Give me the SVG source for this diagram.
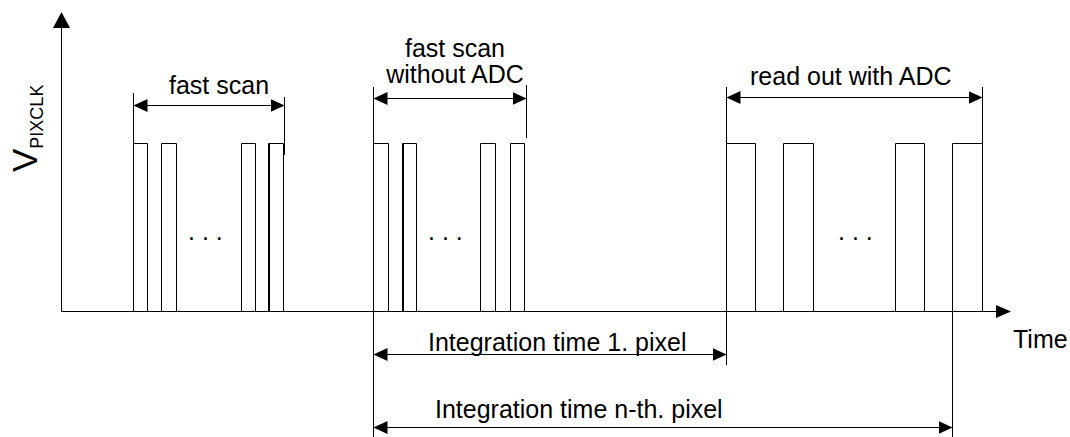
<svg xmlns="http://www.w3.org/2000/svg" width="1070" height="437" viewBox="0 0 1070 437">
  <defs>
    <marker id="arrow" viewBox="0 0 14 13" refX="14" refY="6.5" markerWidth="14" markerHeight="13" markerUnits="userSpaceOnUse" orient="auto-start-reverse">
      <path d="M0,0 L14,6.5 L0,13 Z" fill="#000"/>
    </marker>
    <style>
      .ln { stroke: #000; stroke-width: 1; fill: none; }
      .dim { stroke: #000; stroke-width: 1; fill: none; marker-start: url(#arrow); marker-end: url(#arrow); }
      .lbl { font-family: "Liberation Sans", Arial, sans-serif; font-size: 25px; fill: #000; }
    </style>
  </defs>
  <rect width="1070" height="437" fill="#fff"/>

  <!-- axes -->
  <g id="axes">
    <line class="ln" x1="61.5" y1="26" x2="61.5" y2="311.5"/>
    <polygon points="61.5,12 53,28 70,28" fill="#000"/>
    <line class="ln" x1="61.5" y1="311.5" x2="998" y2="311.5"/>
    <polygon points="1011,311.5 996,305 996,318" fill="#000"/>
    <text class="lbl" x="1013" y="348">Time</text>
    <text class="lbl" transform="translate(37,172) rotate(-90)" font-size="35" style="font-size:35px">V<tspan dy="6" style="font-size:18px">PIXCLK</tspan></text>
  </g>

  <!-- clock pulses: fast scan -->
  <g id="fast-scan">
    <path class="ln" d="M133.5,311.5 V143.5 H147.5 V311.5 M161.5,311.5 V143.5 H176.5 V311.5 M241.5,311.5 V143.5 H255.5 V311.5 M268.5,311.5 V143.5 H283.5 V311.5"/>
    <line class="ln" x1="269.5" y1="143.5" x2="269.5" y2="311.5"/>
    <text class="lbl" x="188" y="240">. . .</text>
    <line class="ln" x1="133.5" y1="93" x2="133.5" y2="143"/>
    <line class="ln" x1="284.5" y1="97" x2="284.5" y2="155"/>
    <line class="dim" x1="133.5" y1="105.5" x2="284.5" y2="105.5"/>
    <text class="lbl" x="169" y="94">fast scan</text>
  </g>

  <!-- clock pulses: fast scan without ADC -->
  <g id="fast-scan-no-adc">
    <path class="ln" d="M373.5,311.5 V143.5 H388.5 V311.5 M402.5,311.5 V143.5 H416.5 V311.5 M480.5,311.5 V143.5 H495.5 V311.5 M510.5,311.5 V143.5 H524.5 V311.5"/>
    <line class="ln" x1="403.5" y1="143.5" x2="403.5" y2="311.5"/>
    <text class="lbl" x="428" y="240">. . .</text>
    <line class="ln" x1="526.5" y1="85" x2="526.5" y2="138"/>
    <line class="dim" x1="373.5" y1="98.5" x2="526.5" y2="98.5"/>
    <text class="lbl" x="455" y="57" text-anchor="middle">fast scan</text>
    <text class="lbl" x="455" y="83" text-anchor="middle">without ADC</text>
  </g>

  <!-- clock pulses: read out with ADC -->
  <g id="read-out-adc">
    <path class="ln" d="M726.5,311.5 V143.5 H755.5 V311.5 M783.5,311.5 V143.5 H813.5 V311.5 M895.5,311.5 V143.5 H924.5 V311.5 M952.5,311.5 V143.5 H982.5 V311.5"/>
    <text class="lbl" x="838" y="240">. . .</text>
    <line class="ln" x1="982.5" y1="87" x2="982.5" y2="143"/>
    <line class="dim" x1="726.5" y1="97.5" x2="982.5" y2="97.5"/>
    <text class="lbl" x="750" y="85">read out with ADC</text>
  </g>

  <!-- integration time dimensions -->
  <g id="connectors">
    <line class="ln" x1="373.5" y1="87" x2="373.5" y2="437"/>
    <line class="ln" x1="726.5" y1="87" x2="726.5" y2="365"/>
    <line class="ln" x1="952.5" y1="311" x2="952.5" y2="437"/>
    <line class="dim" x1="373.5" y1="354.5" x2="726.5" y2="354.5"/>
    <line class="dim" x1="373.5" y1="427.5" x2="952.5" y2="427.5"/>
  </g>
  <g id="integration-labels">
    <text class="lbl" x="428" y="351">Integration time 1. pixel</text>
    <text class="lbl" x="435" y="418">Integration time n-th. pixel</text>
  </g>
</svg>
